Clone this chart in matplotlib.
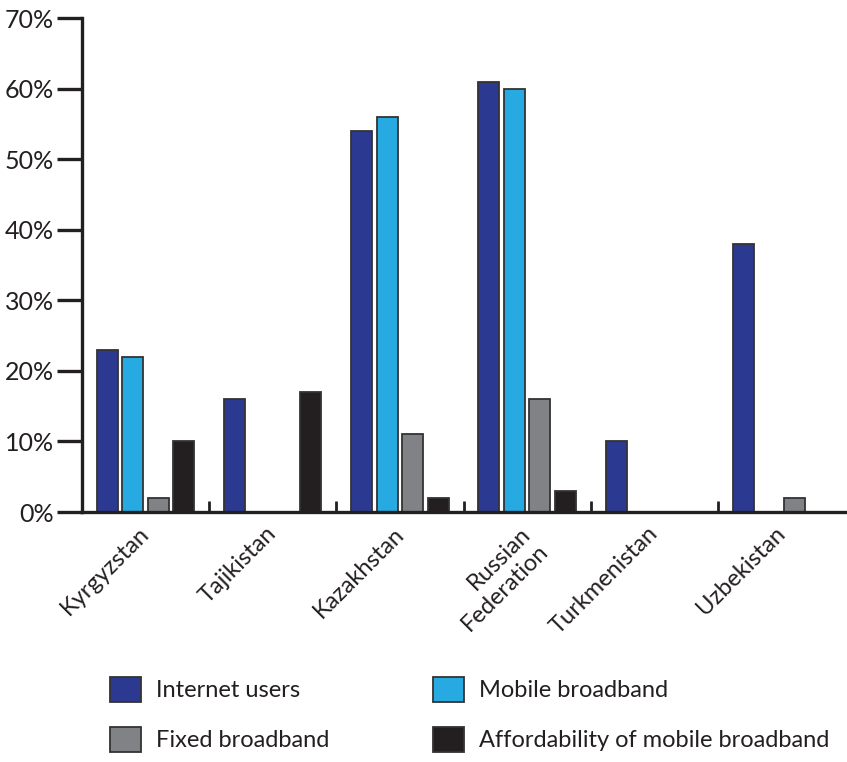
import matplotlib
matplotlib.use("Agg")
import matplotlib.pyplot as plt
import matplotlib.transforms as mtransforms
from matplotlib.patches import Patch
import numpy as np

plt.rcParams['font.family'] = ['Lato', 'DejaVu Sans']

countries = ["Kyrgyzstan", "Tajikistan", "Kazakhstan", "Russian\nFederation",
             "Turkmenistan", "Uzbekistan"]
series_names = ["Internet users", "Mobile broadband", "Fixed broadband",
                "Affordability of mobile broadband"]
internet_users = [23, 16, 54, 61, 10, 38]
mobile_broadband = [22, None, 56, 60, None, None]
fixed_broadband = [2, None, 11, 16, None, 2]
affordability = [10, 17, 2, 3, None, None]
y_ticks = [0, 10, 20, 30, 40, 50, 60, 70]

colors = ["#2b3990", "#27aae1", "#808285", "#231f20"]
edge = "#333333"
ink = "#231f20"

fig = plt.figure(figsize=(8.47, 7.62), dpi=100)
ax = fig.add_axes([82 / 847, 1 - 512 / 762, 763 / 847, 494 / 762])

centers = np.arange(len(countries)) + 0.5
step = 0.2
width = 0.165
all_series = [internet_users, mobile_broadband, fixed_broadband, affordability]
for i, (vals, col) in enumerate(zip(all_series, colors)):
    v = np.array([np.nan if x is None else x for x in vals], dtype=float)
    ax.bar(centers + (i - 1.5) * step, v, width=width, color=col,
           edgecolor=edge, linewidth=1.3, zorder=3)

ax.set_xlim(0, len(countries))
ax.set_ylim(0, 70)

for s in ["top", "right"]:
    ax.spines[s].set_visible(False)
for s in ["left", "bottom"]:
    ax.spines[s].set_linewidth(2.4)
    ax.spines[s].set_color(ink)
    ax.spines[s].set_zorder(4)

ax.set_yticks(y_ticks)
ax.set_yticklabels([f"{t}%" for t in y_ticks])
ax.tick_params(axis="y", direction="out", length=18, width=2.4,
               color=ink, labelsize=18, pad=2, labelcolor=ink)

# group separators on the x axis
ax.set_xticks(np.arange(1, len(countries)))
ax.set_xticklabels([])
ax.tick_params(axis="x", direction="in", length=8, width=2, color=ink)

# rotated country names under each group
label_tr = (mtransforms.blended_transform_factory(ax.transData, ax.transAxes)
            + mtransforms.ScaledTranslation(-7 / 100, -11 / 100,
                                            fig.dpi_scale_trans))
for c, name in zip(centers, countries):
    ax.text(c, 0, name, transform=label_tr, rotation=45, ha="right",
            va="top", rotation_mode="anchor", fontsize=17, color=ink,
            multialignment="right")

handles = [Patch(facecolor=c, edgecolor=edge, linewidth=1.3) for c in colors]
order = [0, 2, 1, 3]
fig.legend([handles[i] for i in order], [series_names[i] for i in order],
           ncol=2, frameon=False, loc="upper left",
           bbox_to_anchor=(110 / 847, 1 - 677 / 762), borderpad=0,
           borderaxespad=0, fontsize=17, handlelength=1.31,
           handleheight=1.23, handletextpad=0.64, labelspacing=1.08,
           columnspacing=4.4, labelcolor=ink)

fig.savefig("out.png", dpi=100)
